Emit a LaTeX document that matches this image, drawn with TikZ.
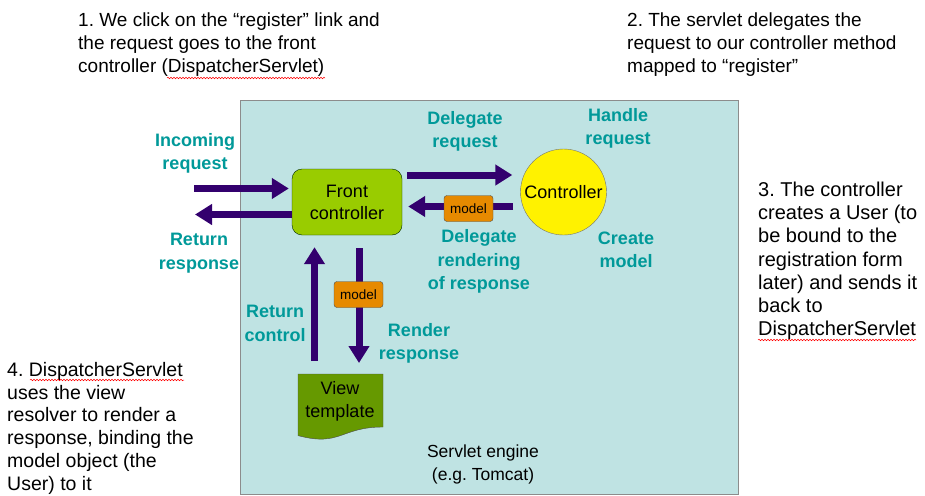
\documentclass[tikz,border=0pt]{standalone}
\usepackage{fontspec}
\setmainfont{Liberation Sans}
\usetikzlibrary{arrows.meta,decorations.pathmorphing}
\definecolor{tealc}{RGB}{0,153,153}
\definecolor{purp}{RGB}{51,0,110}
\definecolor{bgc}{RGB}{191,227,227}
\definecolor{fcgreen}{RGB}{153,204,0}
\definecolor{vtgreen}{RGB}{102,153,0}
\definecolor{orng}{RGB}{230,138,0}
\frenchspacing
\tikzset{
  note/.style={anchor=north west, inner sep=0pt, align=left},
  lbl/.style={text=tealc, inner sep=0pt, align=center, font=\bfseries\fontsize{18}{23.5}\selectfont},
  arr/.style={draw=purp, line width=7pt, -{Triangle[width=20pt,length=17pt]}},
  modelbox/.style={draw=black!70, fill=orng, rounded corners=3pt, minimum width=49pt, minimum height=26pt, inner sep=0pt, font=\fontsize{13.5}{15}\selectfont},
  squig/.style={draw=red, line width=0.5pt, decorate, decoration={snake, amplitude=0.8pt, segment length=3pt}}
}
\begin{document}
\begin{tikzpicture}[x=1pt,y=-1pt]
\useasboundingbox (0,0) rectangle (925,495);
% servlet engine box
\node[draw=black!45, fill=bgc, line width=0.8pt, minimum width=498pt, minimum height=394pt, inner sep=0pt] (engine) at (489,297) {};
\node[inner sep=0pt, align=center, font=\fontsize{17.5}{23}\selectfont] (enginelbl) at (483,464) {Servlet engine\\(e.g. Tomcat)};
% main nodes
\node[draw=black!60!green!40!black, fill=fcgreen, rounded corners=10pt, minimum width=110pt, minimum height=66pt, inner sep=0pt, align=center, font=\fontsize{18}{22}\selectfont] (fc) at (347,202) {Front\\controller};
\node[draw=black!55, fill=yellow, circle, minimum size=86pt, inner sep=0pt, font=\fontsize{18}{22}\selectfont] (ctl) at (563.5,192) {Controller};
% view template
\draw[draw=black!70, fill=vtgreen] (298,374) -- (383,374) -- (383,427) .. controls (340.5,427) and (340.5,447) .. (298,435.6) -- cycle;
\node[inner sep=0pt, align=center, font=\fontsize{18}{23}\selectfont] (vt) at (340,401.5) {View\\template};
\coordinate (vtop) at (340,374);
% arrows
\coordinate (inS) at (194,188.5);
\draw[arr, shorten >=3pt] (inS) -- (inS -| fc.west);
\coordinate (outT) at (195,214.5);
\draw[arr] (outT -| fc.west) -- (outT);
\coordinate (d1) at (407,175);
\draw[arr, shorten >=8pt] (d1) -- (d1 -| ctl.west);
\coordinate (r1) at (513,206.5);
\draw[arr, shorten >=6pt] (r1) -- (r1 -| fc.east);
\node[modelbox] (m1) at (468.5,208.5) {model};
\coordinate (rc) at (314.5,361);
\draw[arr, shorten >=12pt] (rc) -- (rc |- fc.south);
\coordinate (rr) at (359,248);
\draw[arr, shorten >=11pt] (rr) -- (rr |- vtop);
\node[modelbox] (m2) at (358.5,294.5) {model};
% teal labels
\node[lbl] (l1) at (195,153.5) {Incoming\\request};
\node[lbl] (l2) at (199,253) {Return\\response};
\node[lbl] (l3) at (465,131.5) {Delegate\\request};
\node[lbl] (l4) at (618,128.5) {Handle\\request};
\node[lbl] (l5) at (479,261.5) {Delegate\\rendering\\of response};
\node[lbl] (l6) at (626,250) {Create\\model};
\node[lbl] (l7) at (275,323.5) {Return\\control};
\node[lbl] (l8) at (419,343.5) {Render\\response};
% notes
\node[note, font=\fontsize{19}{23}\selectfont] (n1) at (78,13) {1. We click on the “register” link and\\the request goes to the front\\controller (DispatcherServlet)};
\node[note, font=\fontsize{19}{23}\selectfont] (n2) at (627,13) {2. The servlet delegates the\\request to our controller method\\mapped to “register”};
\node[note, font=\fontsize{20}{23.3}\selectfont] (n3) at (758,181.5) {3. The controller\\creates a User (to\\be bound to the\\registration form\\later) and sends it\\back to\\DispatcherServlet};
\node[note, font=\fontsize{19.5}{22.8}\selectfont] (n4) at (7,362) {4. DispatcherServlet\\uses the view\\resolver to render a\\response, binding the\\model object (the\\User) to it};
% spell-check squiggles
\draw[squig] (167,78) -- (325,78);
\draw[squig] (758,340) -- (916,340);
\draw[squig] (30,380) -- (184,380);
\end{tikzpicture}
\end{document}
